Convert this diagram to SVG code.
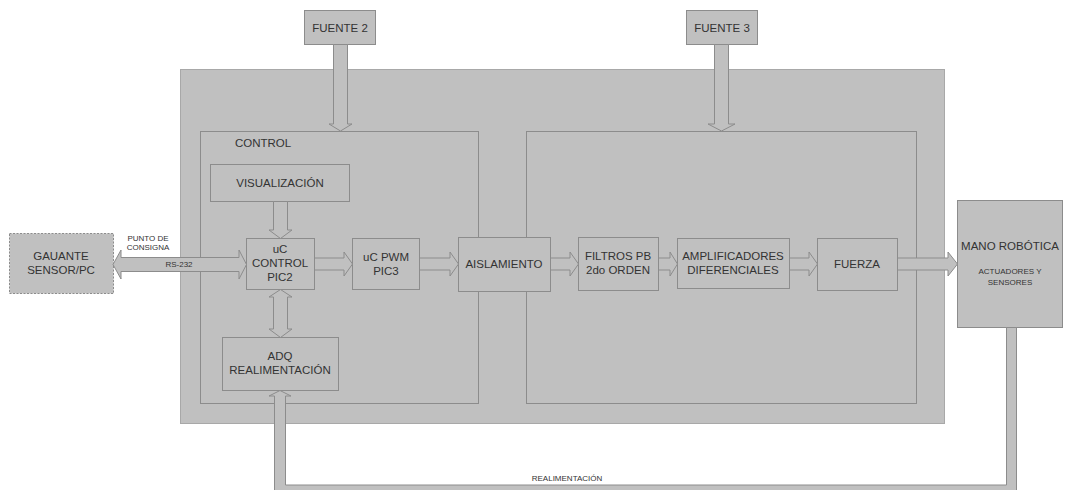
<svg xmlns="http://www.w3.org/2000/svg" width="1067" height="490" viewBox="0 0 1067 490">
<style>
.box{fill:#c0c0c0;stroke:#8c8c8c;stroke-width:1}
.frame{fill:none;stroke:#8c8c8c;stroke-width:1}
.arr{fill:#c0c0c0;stroke:#8c8c8c;stroke-width:1;stroke-linejoin:miter}
text{font-family:"Liberation Sans",Arial,sans-serif;fill:#333;text-anchor:middle}
.t{font-size:11.5px}
.s{font-size:8px}
</style>
<rect width="1067" height="490" fill="#ffffff"/>
<g id="main">
<rect x="180.5" y="69.5" width="764" height="354" fill="#c0c0c0" stroke="#a8a8a8"/>
</g>
<g id="control">
<rect class="frame" x="200.5" y="131.5" width="278" height="272"/>
<text class="t" x="263" y="147" >CONTROL</text>
</g>
<g id="etapa-potencia">
<rect class="frame" x="526.5" y="131.5" width="390" height="272"/>
</g>
<g id="fuente2">
<rect class="box" x="304.5" y="10.5" width="71" height="34"/>
<text class="t" x="340" y="31.5">FUENTE 2</text>
</g>
<g id="fuente3">
<rect class="box" x="686.5" y="10.5" width="71" height="34"/>
<text class="t" x="722" y="31.5">FUENTE 3</text>
</g>
<g id="gauante">
<rect x="9.5" y="233.5" width="104" height="60" fill="#c0c0c0" stroke="#8c8c8c" stroke-dasharray="2,1.5"/>
<text class="t" x="61" y="260">GAUANTE</text>
<text class="t" x="61" y="274">SENSOR/PC</text>
</g>
<g id="visualizacion">
<rect class="box" x="210.5" y="164.5" width="139" height="37"/>
<text class="t" x="280" y="187">VISUALIZACIÓN</text>
</g>
<g id="uc-control">
<rect class="box" x="246.5" y="238.5" width="68" height="51"/>
<text class="t" x="280" y="253">uC</text>
<text class="t" x="280" y="267">CONTROL</text>
<text class="t" x="280" y="281">PIC2</text>
</g>
<g id="uc-pwm">
<rect class="box" x="352.5" y="238.5" width="67" height="51"/>
<text class="t" x="386" y="261">uC PWM</text>
<text class="t" x="386" y="275">PIC3</text>
</g>
<g id="adq">
<rect class="box" x="222.5" y="337.5" width="116" height="53"/>
<text class="t" x="280" y="360">ADQ</text>
<text class="t" x="280" y="374">REALIMENTACIÓN</text>
</g>
<g id="aislamiento">
<rect class="box" x="458.5" y="237.5" width="92" height="54"/>
<text class="t" x="504" y="268">AISLAMIENTO</text>
</g>
<g id="filtros">
<rect class="box" x="578.5" y="237.5" width="80" height="53"/>
<text class="t" x="618" y="260">FILTROS PB</text>
<text class="t" x="618" y="274">2do ORDEN</text>
</g>
<g id="amplificadores">
<rect class="box" x="677.5" y="238.5" width="112" height="50"/>
<text class="t" x="733" y="260">AMPLIFICADORES</text>
<text class="t" x="733" y="274">DIFERENCIALES</text>
</g>
<g id="fuerza">
<rect class="box" x="817.5" y="238.5" width="80" height="52"/>
<text class="t" x="857" y="268">FUERZA</text>
</g>
<g id="mano">
<rect class="box" x="957.5" y="200.5" width="105" height="127"/>
<text class="t" x="1010" y="250">MANO ROBÓTICA</text>
<text class="s" x="1010" y="274">ACTUADORES Y</text>
<text class="s" x="1010" y="285">SENSORES</text>
</g>
<g id="connectors">
<!-- FUENTE2 down -->
<polygon class="arr" points="333.5,44.5 347.5,44.5 347.5,124 352,124 340.5,131 329,124 333.5,124"/>
<!-- FUENTE3 down -->
<polygon class="arr" points="714.5,44.5 728.5,44.5 728.5,124 735,124 721.5,131 708,124 714.5,124"/>
<!-- GAUANTE <-> uC -->
<polygon class="arr" points="113,264.5 121,250 121,257.5 239,257.5 239,250 246.5,264.5 239,279 239,271.5 121,271.5 121,279"/>
<text class="s" x="148" y="241">PUNTO DE</text>
<text class="s" x="148" y="250">CONSIGNA</text>
<text class="s" x="179" y="267">RS-232</text>
<!-- VIS -> uC -->
<polygon class="arr" points="273.5,201.5 287.5,201.5 287.5,230 292,230 280.5,238.5 269,230 273.5,230"/>
<!-- uC <-> ADQ -->
<polygon class="arr" points="280.5,289.5 292,297 287.5,297 287.5,329 292,329 280.5,337.5 269,329 273.5,329 273.5,297 269,297"/>
<!-- uC -> PWM -->
<polygon class="arr" points="314.5,258 344,258 344,252 352.5,264 344,276 344,270 314.5,270"/>
<!-- PWM -> AISL -->
<polygon class="arr" points="419.5,258 450,258 450,252 458.5,264 450,276 450,270 419.5,270"/>
<!-- AISL -> FILTROS -->
<polygon class="arr" points="550.5,258 570,258 570,252 578.5,264 570,276 570,270 550.5,270"/>
<!-- FILTROS -> AMPL -->
<polygon class="arr" points="658.5,258 670,258 670,252 677.5,264 670,276 670,270 658.5,270"/>
<!-- AMPL -> FUERZA -->
<polygon class="arr" points="789.5,258 809,258 809,252 817.5,264 809,276 809,270 789.5,270"/>
<!-- FUERZA -> MANO -->
<polygon class="arr" points="897.5,258 948,258 948,252 957.5,264 948,276 948,270 897.5,270"/>
<!-- Feedback -->
<polygon class="arr" points="1006.5,327.5 1016.5,327.5 1016.5,492 274.5,492 274.5,396 269,396 280,390.5 291,396 285.5,396 285.5,485 1006.5,485"/>
<text class="s" x="567" y="481">REALIMENTACIÓN</text>
</g>
</svg>
